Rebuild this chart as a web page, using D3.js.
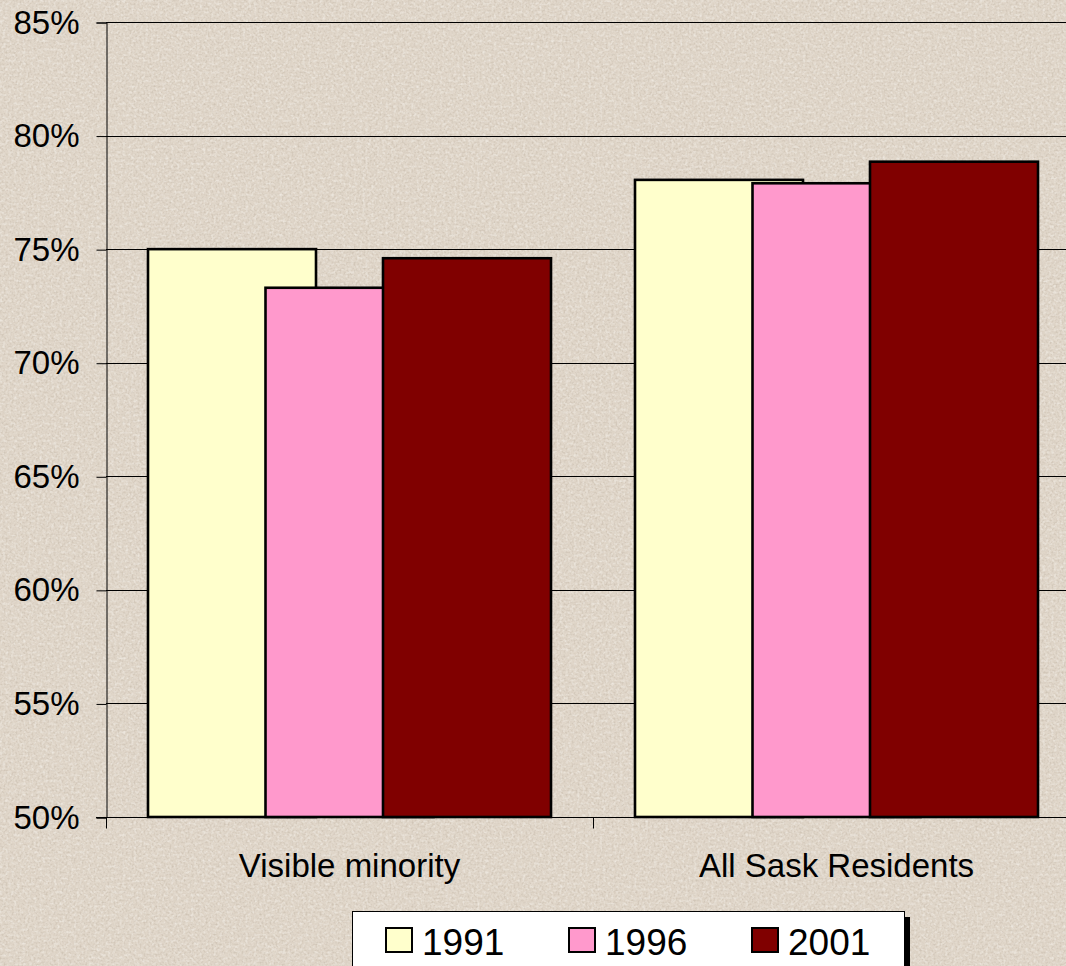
<!DOCTYPE html>
<html>
<head>
<meta charset="utf-8">
<script src="https://cdn.jsdelivr.net/npm/d3@7"></script>
<style>
  html, body { margin: 0; padding: 0; background: #e2d8cb; }
  svg { display: block; font-family: Arial, "Liberation Sans", sans-serif; }
</style>
</head>
<body>
<svg id="chart" width="1066" height="966"></svg>
<script>
// data
var categories = ["Visible minority", "All Sask Residents"];
var years = ["1991", "1996", "2001"];
var values = {
  "1991": [75.0, 78.05],
  "1996": [73.3, 77.9],
  "2001": [74.6, 78.85]
};
var colors = { "1991": "#ffffcc", "1996": "#ff99cc", "2001": "#800000" };
var yTicks = [50, 55, 60, 65, 70, 75, 80, 85];

var svg = d3.select("#chart");
var W = 1066, H = 966;
var plot = { left: 106, top: 22, right: 1080, bottom: 817 };

// parchment texture
var defs = svg.append("defs");
var f = defs.append("filter").attr("id", "grain")
  .attr("x", 0).attr("y", 0).attr("width", "100%").attr("height", "100%");
f.append("feTurbulence").attr("type", "fractalNoise")
  .attr("baseFrequency", 0.5).attr("numOctaves", 3).attr("seed", 7).attr("result", "n");
f.append("feColorMatrix").attr("in", "n").attr("type", "matrix")
  .attr("values", "0 0 0 0 0.45  0 0 0 0 0.38  0 0 0 0 0.30  1.6 0 0 0 -0.7");
var f2 = defs.append("filter").attr("id", "light")
  .attr("x", 0).attr("y", 0).attr("width", "100%").attr("height", "100%");
f2.append("feTurbulence").attr("type", "fractalNoise")
  .attr("baseFrequency", 0.35).attr("numOctaves", 2).attr("seed", 3).attr("result", "n");
f2.append("feColorMatrix").attr("in", "n").attr("type", "matrix")
  .attr("values", "0 0 0 0 1  0 0 0 0 1  0 0 0 0 0.98  0 1.6 0 0 -0.72");
svg.append("rect").attr("width", W).attr("height", H).attr("fill", "#e0d6c9");
svg.append("rect").attr("width", W).attr("height", H).attr("filter", "url(#grain)").attr("opacity", 0.6);
svg.append("rect").attr("width", W).attr("height", H).attr("filter", "url(#light)").attr("opacity", 0.6);

var y = d3.scaleLinear().domain([50, 85]).range([plot.bottom, plot.top]);
var x0 = d3.scaleBand().domain(categories).range([plot.left, plot.right]);
var groupW = 403, barW = 168;
var x1 = d3.scalePoint().domain(years).range([0, groupW - barW]);

// gridlines
svg.append("g").selectAll("line").data(yTicks.slice(1)).enter().append("line")
  .attr("x1", plot.left).attr("x2", W)
  .attr("y1", function(d) { return Math.round(y(d)) + 0.5; })
  .attr("y2", function(d) { return Math.round(y(d)) + 0.5; })
  .attr("stroke", "#000").attr("stroke-width", 1);

// bars
years.forEach(function(yr) {
  svg.append("g").selectAll("rect").data(categories).enter().append("rect")
    .attr("x", function(c) { return x0(c) + (x0.bandwidth() - groupW) / 2 + x1(yr); })
    .attr("y", function(c, i) { return y(values[yr][i]); })
    .attr("width", barW)
    .attr("height", function(c, i) { return y(50) - y(values[yr][i]); })
    .attr("fill", colors[yr])
    .attr("stroke", "#000").attr("stroke-width", 2.6);
});

// y axis
var yAxis = d3.axisLeft(y).tickValues(yTicks).tickSize(10).tickPadding(17)
  .tickFormat(function(d) { return d + "%"; });
var ya = svg.append("g").attr("transform", "translate(" + (plot.left + 0.5) + ",0.5)").call(yAxis);
ya.select(".domain").attr("stroke", "#000");
ya.selectAll("text").attr("font-size", 33).attr("fill", "#000")
  .attr("font-family", "Arial, 'Liberation Sans', sans-serif");

// x axis
var xAxis = d3.axisBottom(x0).tickSize(0).tickPadding(0).tickFormat("");
var xa = svg.append("g").attr("transform", "translate(0," + (plot.bottom + 0.5) + ")").call(xAxis);
xa.select(".domain").attr("stroke", "#000").attr("d", "M" + (plot.left - 10) + ",0H" + plot.right);
xa.selectAll(".tick").remove();
xa.selectAll(".sep").data(x0.domain().concat(["end"])).enter().append("line")
  .attr("x1", function(c) { return (c === "end" ? plot.right : x0(c)) + 0.5; })
  .attr("x2", function(c) { return (c === "end" ? plot.right : x0(c)) + 0.5; })
  .attr("y1", 0).attr("y2", 11).attr("stroke", "#000");

svg.append("g").selectAll("text").data(categories).enter().append("text")
  .attr("x", function(c) { return x0(c) + x0.bandwidth() / 2; })
  .attr("y", 877)
  .attr("text-anchor", "middle")
  .attr("font-size", 33)
  .text(function(c) { return c; });

// legend
var lg = svg.append("g");
lg.append("rect").attr("x", 357).attr("y", 917).attr("width", 553).attr("height", 60).attr("fill", "#000");
lg.append("rect").attr("x", 352.5).attr("y", 911.5).attr("width", 552).attr("height", 60)
  .attr("fill", "#fff").attr("stroke", "#000");
var lx = d3.scalePoint().domain(years).range([386, 752]);
var item = lg.selectAll(".item").data(years).enter().append("g")
  .attr("transform", function(d) { return "translate(" + lx(d) + ",928)"; });
item.append("rect").attr("width", 26).attr("height", 24)
  .attr("fill", function(d) { return colors[d]; })
  .attr("stroke", "#000").attr("stroke-width", 2);
item.append("text").attr("x", 36).attr("y", 27).attr("font-size", 37).text(function(d) { return d; });
</script>
</body>
</html>
